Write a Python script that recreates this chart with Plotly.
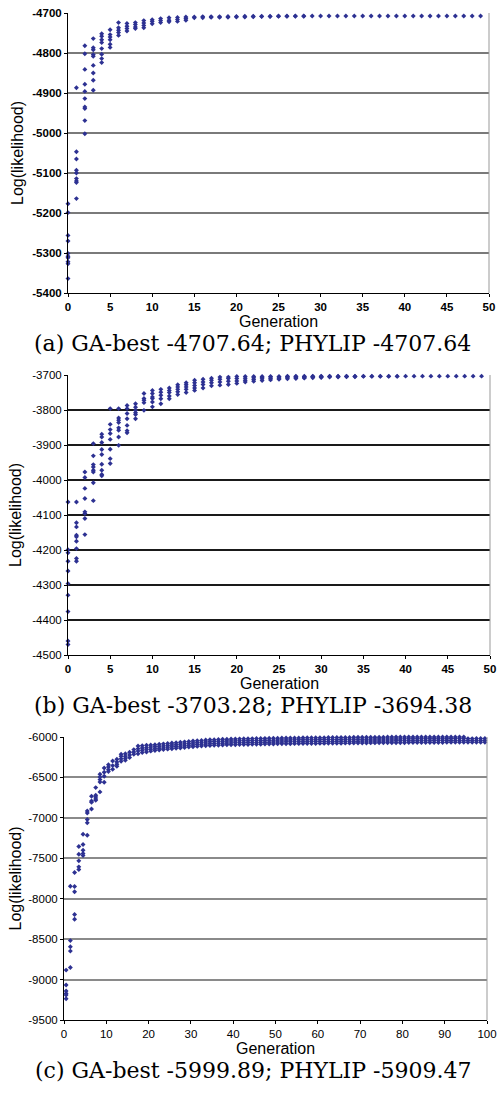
import plotly.graph_objects as go

# ---------------- data ----------------
# Panel (a): log-likelihood of each individual, per generation 0..49
a_values = [
    [-5177, -5199, -5256, -5270, -5301, -5308, -5312, -5322, -5327, -5364],
    [-4887, -5047, -5065, -5093, -5100, -5114, -5120, -5124, -5164],
    [-4782, -4802, -4841, -4878, -4896, -4914, -4935, -4939, -4969, -5002],
    [-4764, -4787, -4792, -4804, -4808, -4831, -4850, -4868, -4893],
    [-4752, -4758, -4767, -4774, -4789, -4803, -4814, -4824],
    [-4742, -4754, -4760, -4767, -4778, -4786],
    [-4724, -4737, -4743, -4749, -4756],
    [-4726, -4733, -4739, -4745],
    [-4724, -4729, -4735, -4739],
    [-4719, -4725, -4731, -4737],
    [-4717, -4721, -4727],
    [-4714, -4719, -4724],
    [-4712, -4718, -4722],
    [-4711, -4716, -4721],
    [-4710, -4714, -4718],
    [-4710, -4712],
    [-4709, -4712],
    [-4709, -4711],
    [-4709, -4711],
    [-4708.5, -4710.5],
    [-4708.5, -4710],
    [-4708, -4710],
    [-4708, -4709.5],
    [-4708, -4709],
    [-4708, -4709],
    [-4707.64, -4708.5],
    [-4707.64, -4708.5],
    [-4707.64, -4708],
    [-4707.64, -4708],
    [-4707.64],
    [-4707.64], [-4707.64], [-4707.64], [-4707.64], [-4707.64],
    [-4707.64], [-4707.64], [-4707.64], [-4707.64], [-4707.64],
    [-4707.64], [-4707.64], [-4707.64], [-4707.64], [-4707.64],
    [-4707.64], [-4707.64], [-4707.64], [-4707.64], [-4707.64],
]

# Panel (b): generations 0..49
b_values = [
    [-4063, -4199, -4208, -4232, -4260, -4296, -4329, -4376, -4460, -4470],
    [-4063, -4122, -4134, -4158, -4162, -4175, -4196, -4224, -4232],
    [-3977, -3993, -4024, -4053, -4091, -4096, -4110, -4156],
    [-3896, -3931, -3956, -3963, -3972, -3977, -4008, -4059],
    [-3869, -3877, -3893, -3913, -3927, -3955, -3972, -3984, -3988],
    [-3796, -3841, -3856, -3867, -3884, -3912, -3939, -3953],
    [-3796, -3823, -3829, -3836, -3851, -3858, -3877, -3901],
    [-3787, -3796, -3810, -3825, -3844, -3859, -3865],
    [-3782, -3792, -3801, -3808, -3813, -3825],
    [-3753, -3767, -3772, -3779, -3801],
    [-3744, -3753, -3763, -3767, -3777, -3791],
    [-3741, -3749, -3758, -3768, -3782],
    [-3737, -3744, -3750, -3760, -3768],
    [-3728, -3734, -3741, -3748, -3756],
    [-3722, -3728, -3734, -3741, -3750],
    [-3715, -3722, -3730, -3737, -3744],
    [-3712, -3720, -3727, -3737],
    [-3709, -3715, -3722, -3731],
    [-3706, -3712, -3720, -3729],
    [-3706, -3710, -3718, -3727],
    [-3704, -3710, -3717, -3724],
    [-3704, -3709, -3715, -3720],
    [-3704, -3708, -3713, -3718],
    [-3704, -3707, -3711, -3716],
    [-3704, -3706, -3710, -3714],
    [-3704, -3706, -3709, -3712],
    [-3703.5, -3705, -3708, -3711],
    [-3703.5, -3705, -3707, -3710],
    [-3703.5, -3705, -3707, -3709],
    [-3703.5, -3704.5, -3706, -3708],
    [-3703.3, -3704.5, -3706, -3707],
    [-3703.3, -3704, -3705.5],
    [-3703.3, -3704, -3705.5],
    [-3703.3, -3704, -3705],
    [-3703.3, -3704, -3705],
    [-3703.3, -3704],
    [-3703.28, -3704], [-3703.28, -3704], [-3703.28, -3704], [-3703.28, -3704],
    [-3703.28], [-3703.28], [-3703.28], [-3703.28], [-3703.28],
    [-3703.28], [-3703.28], [-3703.28], [-3703.28], [-3703.28],
]

# Panel (c): generations 1..100
c_values = [
    [-8883, -9068, -9142, -9171, -9191, -9237],
    [-7845, -8518, -8594, -8648, -8850],
    [-7676, -7849, -7915, -8195, -8253],
    [-7355, -7450, -7532, -7606, -7639],
    [-7202, -7330, -7400, -7441, -7466],
    [-6914, -6939, -7021, -7062, -7215],
    [-6733, -6791, -6807, -6890],
    [-6626, -6721, -6741, -6766, -6782],
    [-6461, -6494, -6527, -6556, -6679],
    [-6383, -6437, -6486, -6560],
    [-6342, -6371, -6404, -6428],
    [-6296, -6354, -6400],
    [-6276, -6309, -6338, -6362],
    [-6214, -6239, -6268, -6301],
    [-6206, -6239, -6264, -6288],
    [-6189, -6222, -6255],
    [-6156, -6185, -6214],
    [-6111, -6144, -6173, -6206],
    [-6107, -6136, -6165, -6193],
    [-6103, -6132, -6156, -6185],
    [-6100, -6125, -6150, -6175],
    [-6095, -6120, -6145, -6168],
    [-6090, -6115, -6140, -6160],
    [-6085, -6110, -6135, -6155],
    [-6080, -6105, -6128, -6150],
    [-6075, -6100, -6122, -6145],
    [-6070, -6095, -6118, -6140],
    [-6065, -6090, -6113, -6135],
    [-6060, -6085, -6108, -6130],
    [-6055, -6080, -6103, -6125],
    [-6050, -6075, -6098, -6120],
    [-6046, -6070, -6094, -6116],
    [-6042, -6066, -6090, -6112],
    [-6038, -6062, -6086, -6108],
    [-6035, -6058, -6082, -6105],
    [-6033, -6056, -6080, -6103],
    [-6031, -6054, -6078, -6101],
    [-6029, -6052, -6076, -6099],
    [-6027, -6050, -6074, -6097],
    [-6025, -6049, -6073, -6096],
    [-6024, -6048, -6072, -6095],
    [-6023, -6047, -6071, -6094],
    [-6022, -6046, -6070, -6093],
    [-6021, -6045, -6069, -6092],
    [-6020, -6044, -6068, -6091],
    [-6019, -6043, -6067, -6090],
    [-6018, -6042, -6066, -6089],
    [-6017, -6041, -6065, -6088],
    [-6016, -6040, -6064, -6087],
    [-6015, -6039, -6063, -6086],
    [-6014, -6038, -6062, -6085],
    [-6013, -6037, -6061, -6084],
    [-6012, -6036, -6060, -6083],
    [-6012, -6036, -6060, -6083],
    [-6011, -6035, -6059, -6082],
    [-6011, -6035, -6059, -6082],
    [-6010, -6034, -6058, -6081],
    [-6010, -6034, -6058, -6081],
    [-6009, -6033, -6057, -6080],
    [-6009, -6033, -6057, -6080],
    [-6008, -6032, -6056, -6079],
    [-6008, -6032, -6056, -6079],
    [-6007, -6031, -6055, -6078],
    [-6007, -6031, -6055, -6078],
    [-6006, -6030, -6054, -6077],
    [-6006, -6030, -6054, -6077],
    [-6005, -6029, -6053, -6076],
    [-6005, -6029, -6053, -6076],
    [-6004, -6028, -6052, -6075],
    [-6004, -6028, -6052, -6075],
    [-6003, -6027, -6051, -6074],
    [-6003, -6027, -6051, -6074],
    [-6003, -6026, -6050, -6073],
    [-6002, -6026, -6050, -6073],
    [-6002, -6025, -6049, -6072],
    [-6002, -6025, -6049, -6072],
    [-6001, -6025, -6048, -6071],
    [-6001, -6024, -6048, -6071],
    [-6001, -6024, -6047, -6070],
    [-6001, -6024, -6047, -6070],
    [-6000, -6023, -6047, -6070],
    [-6000, -6023, -6046, -6069],
    [-6000, -6023, -6046, -6069],
    [-6000, -6022, -6046, -6069],
    [-6000, -6022, -6045, -6068],
    [-6000, -6022, -6045, -6068],
    [-6000, -6022, -6045, -6068],
    [-6000, -6021, -6044, -6067],
    [-6000, -6021, -6044, -6067],
    [-6000, -6021, -6044, -6067],
    [-6000, -6021, -6044, -6066],
    [-6000, -6020, -6043, -6066],
    [-6000, -6020, -6043, -6066],
    [-6000, -6020, -6043, -6066],
    [-6000, -6020, -6043, -6065],
    [-5999.89, -6020, -6042, -6065],
    [-5999.89, -6020, -6042, -6065],
    [-5999.89, -6019, -6042, -6065],
    [-5999.89, -6019, -6042, -6064],
    [-5999.89, -6019, -6042, -6064],
]

a_gens = list(range(0, 50))
b_gens = list(range(0, 50))
c_gens = list(range(1, 101))

a_yticks = [-5400, -5300, -5200, -5100, -5000, -4900, -4800, -4700]
b_yticks = [-4500, -4400, -4300, -4200, -4100, -4000, -3900, -3800, -3700]
c_yticks = [-9500, -9000, -8500, -8000, -7500, -7000, -6500, -6000]
ab_xticks = [0, 5, 10, 15, 20, 25, 30, 35, 40, 45, 50]
c_xticks = [0, 10, 20, 30, 40, 50, 60, 70, 80, 90, 100]

captions = [
    "(a) GA-best -4707.64; PHYLIP -4707.64",
    "(b) GA-best -3703.28; PHYLIP -3694.38",
    "(c) GA-best -5999.89; PHYLIP -5909.47",
]

# ---------------- layout helpers ----------------
W, H = 499, 1093
MARK = "#2d3192"
SANS = "Liberation Sans, Arial, sans-serif"
SERIF = "DejaVu Serif, serif"

def px_x(p):
    return p / W

def px_y(p):
    return 1 - p / H

# plot boxes in pixels: (left, right, top, bottom)
boxes = [(68, 489, 13, 293), (68, 490, 375, 655), (64, 487, 737, 1020)]

fig = go.Figure()

def flatten(gens, values, shift=0.0):
    xs, ys = [], []
    for g, vals in zip(gens, values):
        for v in vals:
            xs.append(g + shift)
            ys.append(v)
    return xs, ys

panels = [
    (a_gens, a_values, 0.0),
    (b_gens, b_values, 0.0),
    (c_gens, c_values, -0.5),
]

for i, (gens, vals, shift) in enumerate(panels):
    xs, ys = flatten(gens, vals, shift)
    sfx = "" if i == 0 else str(i + 1)
    fig.add_trace(go.Scatter(
        x=xs, y=ys, mode="markers", xaxis="x" + sfx, yaxis="y" + sfx,
        marker=dict(symbol="diamond", size=3.8, color=MARK, line=dict(width=0)),
        cliponaxis=False, showlegend=False, hoverinfo="skip",
    ))

grid_colors = ["#7a7a7a", "#1a1a1a", "#8a8a8a"]
x_bold = ["bold", "bold", "normal"]
y_bold = ["bold", "normal", "normal"]
xranges = [[0, 50], [0, 50], [0, 100]]
yranges = [[-5400, -4700], [-4500, -3700], [-9500, -6000]]
xtickss = [ab_xticks, ab_xticks, c_xticks]
ytickss = [a_yticks, b_yticks, c_yticks]

shapes = []
annotations = []
for i in range(3):
    l, r, t, b = boxes[i]
    sfx = "" if i == 0 else str(i + 1)
    fig.layout["xaxis" + sfx] = dict(
        domain=[px_x(l), px_x(r)], anchor="y" + sfx, range=xranges[i],
        tickvals=xtickss[i], ticktext=[str(v) for v in xtickss[i]],
        showgrid=False, zeroline=False, showline=True, linecolor="#000", linewidth=1,
        ticks="outside", ticklen=3, tickcolor="#000", automargin=False,
        tickfont=dict(family=SANS, size=11.5, color="#000", weight=x_bold[i]),
    )
    fig.layout["yaxis" + sfx] = dict(
        domain=[px_y(b), px_y(t)], anchor="x" + sfx, range=yranges[i],
        tickvals=ytickss[i], ticktext=[str(v) for v in ytickss[i]],
        showgrid=True, gridcolor=grid_colors[i], gridwidth=1.5,
        zeroline=False, showline=True, linecolor="#000", linewidth=1,
        ticks="outside", ticklen=3, tickcolor="#000", automargin=False,
        tickfont=dict(family=SANS, size=11.5, color="#000", weight=y_bold[i]),
    )
    # right border of the plot area
    shapes.append(dict(type="line", xref="x" + sfx + " domain", yref="y" + sfx + " domain",
                       x0=1, x1=1, y0=0, y1=1, line=dict(color="#999999", width=1)))
    # axis titles
    annotations.append(dict(text="Log(likelihood)", textangle=-90, showarrow=False,
                            xref="paper", yref="paper", x=px_x(17 if i == 0 else 15),
                            y=px_y((t + b) / 2), xanchor="center", yanchor="middle",
                            font=dict(family=SANS, size=16, color="#000")))
    annotations.append(dict(text="Generation", showarrow=False,
                            xref="paper", yref="paper", x=px_x((l + r) / 2),
                            y=px_y(b + 28), xanchor="center", yanchor="middle",
                            font=dict(family=SANS, size=16, color="#000")))
    annotations.append(dict(text=captions[i], showarrow=False,
                            xref="paper", yref="paper", x=px_x(253),
                            y=px_y(b + 50), xanchor="center", yanchor="middle",
                            font=dict(family=SERIF, size=22, color="#000")))

fig.update_layout(
    width=W, height=H, margin=dict(l=0, r=0, t=0, b=0, autoexpand=False),
    paper_bgcolor="white", plot_bgcolor="white",
    shapes=shapes, annotations=annotations, showlegend=False,
)

fig.write_html(
    "out.html",
    config={"displayModeBar": False},
    post_script="document.body.style.margin='0';document.body.style.overflow='hidden';",
)
